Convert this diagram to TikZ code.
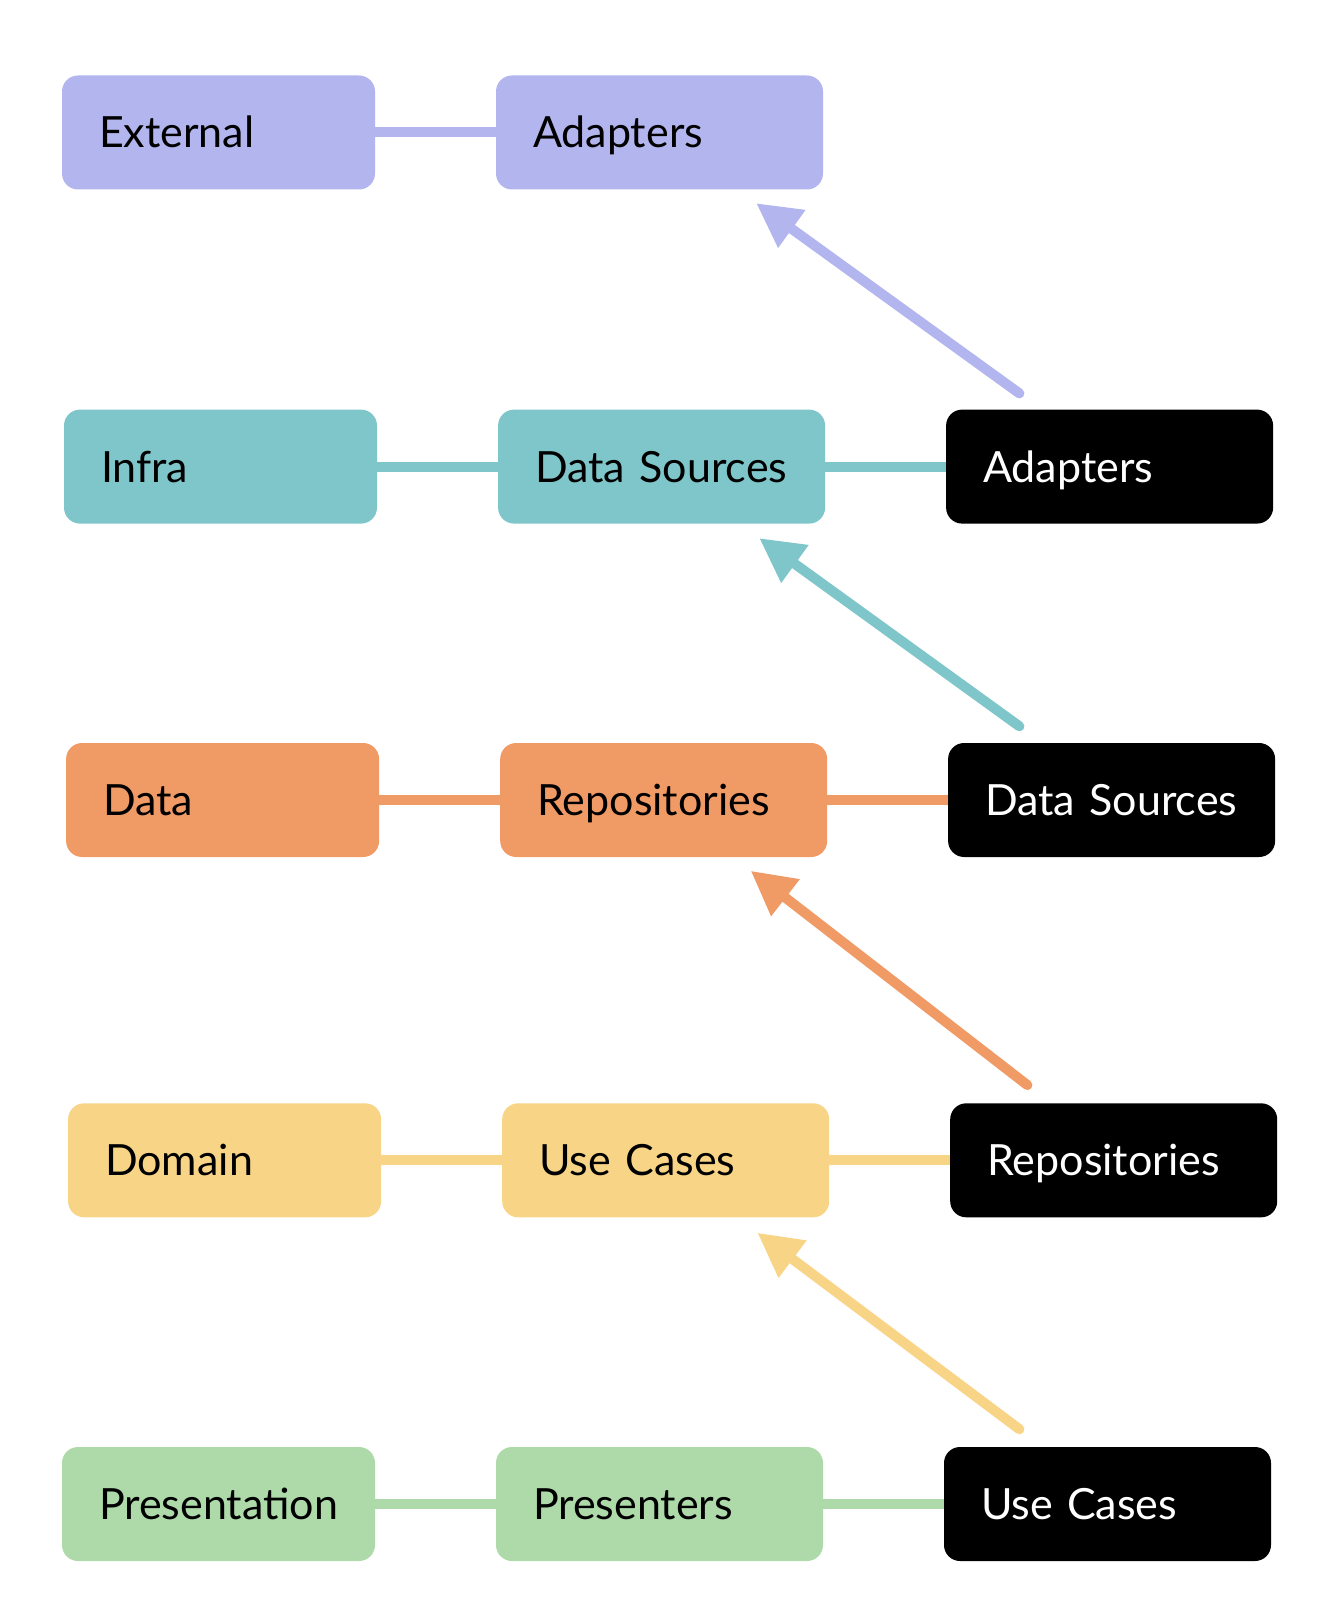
\documentclass[tikz,border=0pt]{standalone}
\usepackage{fontspec}
\setmainfont{Lato}
\usetikzlibrary{arrows.meta,calc}
\definecolor{cpurple}{RGB}{178,181,238}
\definecolor{cteal}{RGB}{126,198,202}
\definecolor{corange}{RGB}{240,154,102}
\definecolor{cyellow}{RGB}{248,212,134}
\definecolor{cgreen}{RGB}{174,218,170}
\begin{document}
\begin{tikzpicture}[x=1pt,y=-1pt,
  box/.style={rounded corners=16pt, minimum height=114pt, inner xsep=37pt, inner ysep=0pt,
    text height=31pt, text depth=0pt, align=left, font=\fontsize{43}{50}\selectfont},
  lbox/.style={box, text width=239pt},
  wbox/.style={box, text width=253pt},
  blk/.style={wbox, fill=black, text=white},
  link/.style={line width=10pt},
  arr/.style={line width=10pt, line cap=round, -{Triangle[length=44pt,width=44pt]}}]
\useasboundingbox (0,0) rectangle (1342,1624);
% row 1
\node[lbox, fill=cpurple] (l1) at (218.5,132.5) {\mbox{External}};
\node[wbox, fill=cpurple] (m1) at (659.5,132.5) {\mbox{Adapters}};
% row 2
\node[lbox, fill=cteal] (l2) at (220.5,466.6) {\mbox{Infra}};
\node[wbox, fill=cteal] (m2) at (661.6,466.6) {\mbox{Data Sources}};
\node[blk] (r2) at (1109.6,466.6) {\mbox{Adapters}};
% row 3
\node[lbox, fill=corange] (l3) at (222.6,800) {\mbox{Data}};
\node[wbox, fill=corange] (m3) at (663.7,800) {\mbox{Repositories}};
\node[blk] (r3) at (1111.6,800) {\mbox{Data Sources}};
% row 4
\node[lbox, fill=cyellow] (l4) at (224.6,1160.3) {\mbox{Domain}};
\node[wbox, fill=cyellow] (m4) at (665.7,1160.3) {\mbox{Use Cases}};
\node[blk] (r4) at (1113.7,1160.3) {\mbox{Repositories}};
% row 5
\node[lbox, fill=cgreen] (l5) at (218.5,1504) {\mbox{Presentation}};
\node[wbox, fill=cgreen] (m5) at (659.5,1504) {\mbox{Presenters}};
\node[blk] (r5) at (1107.5,1504) {\mbox{Use Cases}};
% links
\draw[link, cpurple] (l1) -- (m1);
\draw[link, cteal] (l2) -- (m2);
\draw[link, cteal] (m2) -- (r2);
\draw[link, corange] (l3) -- (m3);
\draw[link, corange] (m3) -- (r3);
\draw[link, cyellow] (l4) -- (m4);
\draw[link, cyellow] (m4) -- (r4);
\draw[link, cgreen] (l5) -- (m5);
\draw[link, cgreen] (m5) -- (r5);
% arrows
\draw[arr, cpurple] ([shift={(73.5,-16)}]r2.north west) -- ([shift={(-67,13.5)}]m1.south east);
\draw[arr, cteal] ([shift={(71.5,-16.5)}]r3.north west) -- ([shift={(-66,14.4)}]m2.south east);
\draw[arr, corange] ([shift={(77.4,-18)}]r4.north west) -- ([shift={(-76.7,13.6)}]m3.south east);
\draw[arr, cyellow] ([shift={(75.6,-17.6)}]r5.north west) -- ([shift={(-72,15.3)}]m4.south east);
\end{tikzpicture}
\end{document}
